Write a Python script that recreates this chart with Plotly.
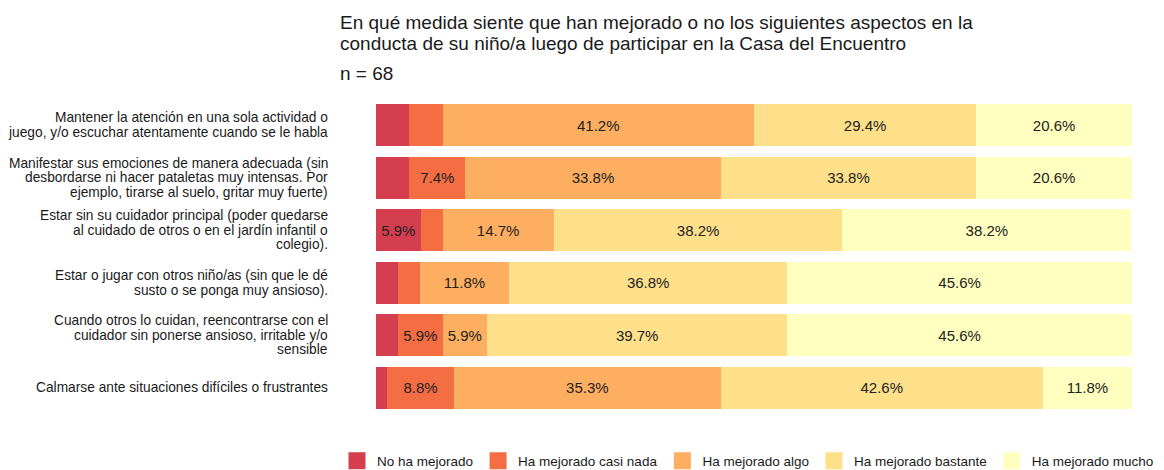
import plotly.graph_objects as go

categories = [
    "Mantener la atención en una sola actividad o<br>juego, y/o escuchar atentamente cuando se le habla",
    "Manifestar sus emociones de manera adecuada (sin<br>desbordarse ni hacer pataletas muy intensas. Por<br>ejemplo, tirarse al suelo, gritar muy fuerte)",
    "Estar sin su cuidador principal (poder quedarse<br>al cuidado de otros o en el jardín infantil o<br>colegio).",
    "Estar o jugar con otros niño/as (sin que le dé<br>susto o se ponga muy ansioso).",
    "Cuando otros lo cuidan, reencontrarse con el<br>cuidador sin ponerse ansioso, irritable y/o<br>sensible",
    "Calmarse ante situaciones difíciles o frustrantes",
]

no_ha_mejorado = [4.4, 4.4, 5.9, 2.9, 2.9, 1.5]
casi_nada = [4.4, 7.4, 2.9, 2.9, 5.9, 8.8]
algo = [41.2, 33.8, 14.7, 11.8, 5.9, 35.3]
bastante = [29.4, 33.8, 38.2, 36.8, 39.7, 42.6]
mucho = [20.6, 20.6, 38.2, 45.6, 45.6, 11.8]

series_names = ["No ha mejorado", "Ha mejorado casi nada", "Ha mejorado algo",
                "Ha mejorado bastante", "Ha mejorado mucho"]
series_values = [no_ha_mejorado, casi_nada, algo, bastante, mucho]
colors = ["#D53E4F", "#F46D43", "#FDAE61", "#FEE08B", "#FFFFBF"]

title_lines = [
    "En qué medida siente que han mejorado o no los siguientes aspectos en la",
    "conducta de su niño/a luego de participar en la Casa del Encuentro",
]
subtitle = "n = 68"

FONT = "Liberation Sans, Arial, sans-serif"
TXT = "#1a1a1a"

W, H = 1164, 470
ML, MR, MT, MB = 376, 32, 99, 56
PW, PH = W - ML - MR, H - MT - MB


def px_x(px):
    return (px - ML) / PW


def px_y(py):
    return (H - MB - py) / PH


fig = go.Figure()
for name, vals, col in zip(series_names, series_values, colors):
    labels = [f"{v:.1f}%" if v >= 5 else "" for v in vals]
    fig.add_trace(go.Bar(
        name=name, y=categories, x=vals, orientation="h",
        marker=dict(color=col, line=dict(width=0)),
        text=labels, textposition="inside", insidetextanchor="middle",
        textangle=0, constraintext="none",
        textfont=dict(family=FONT, size=15, color="#222222"),
        hoverinfo="skip", showlegend=False, legendgroup=name,
    ))

# legend-only entries (no marks drawn) with larger swatches
for name, col in zip(series_names, colors):
    fig.add_trace(go.Bar(
        name=name, y=[categories[0]], x=[None], orientation="h",
        marker=dict(color=col, line=dict(width=5, color=col)),
        hoverinfo="skip", showlegend=True, legendgroup=name,
    ))

annotations = []
# title lines
for txt, py in zip(title_lines + [subtitle], [22.5, 44, 73]):
    annotations.append(dict(
        text=txt, xref="paper", yref="paper", x=px_x(338), xanchor="left",
        y=px_y(py), yanchor="middle", showarrow=False,
        font=dict(family=FONT, size=19, color=TXT),
    ))

# category labels (one annotation per line to control line spacing)
LINE_SP = 14.6
for cat in categories:
    lines = cat.split("<br>")
    n = len(lines)
    for i, ln in enumerate(lines):
        annotations.append(dict(
            text=ln, xref="paper", yref="y", x=0, y=cat,
            xanchor="right", yanchor="middle", xshift=-46,
            yshift=((n - 1) / 2 - i) * LINE_SP, align="right",
            showarrow=False, font=dict(family=FONT, size=13.75, color=TXT),
        ))

fig.update_layout(
    barmode="stack",
    bargap=0.2,
    width=W, height=H,
    margin=dict(l=ML, r=MR, t=MT, b=MB, autoexpand=False),
    paper_bgcolor="white", plot_bgcolor="white",
    font=dict(family=FONT, color=TXT),
    annotations=annotations,
    xaxis=dict(range=[0, 100], visible=False, fixedrange=True),
    yaxis=dict(
        categoryorder="array", categoryarray=categories, autorange="reversed",
        showgrid=False, zeroline=False, showline=False, ticks="",
        showticklabels=False, fixedrange=True,
    ),
    legend=dict(
        orientation="h", xref="paper", yref="paper",
        x=px_x(337), xanchor="left", y=px_y(461), yanchor="middle",
        font=dict(family=FONT, size=13.5, color=TXT),
        traceorder="normal",
    ),
    showlegend=True,
)

fig.write_html("out.html", config={"displayModeBar": False},
               post_script="document.body.style.margin='0';")
